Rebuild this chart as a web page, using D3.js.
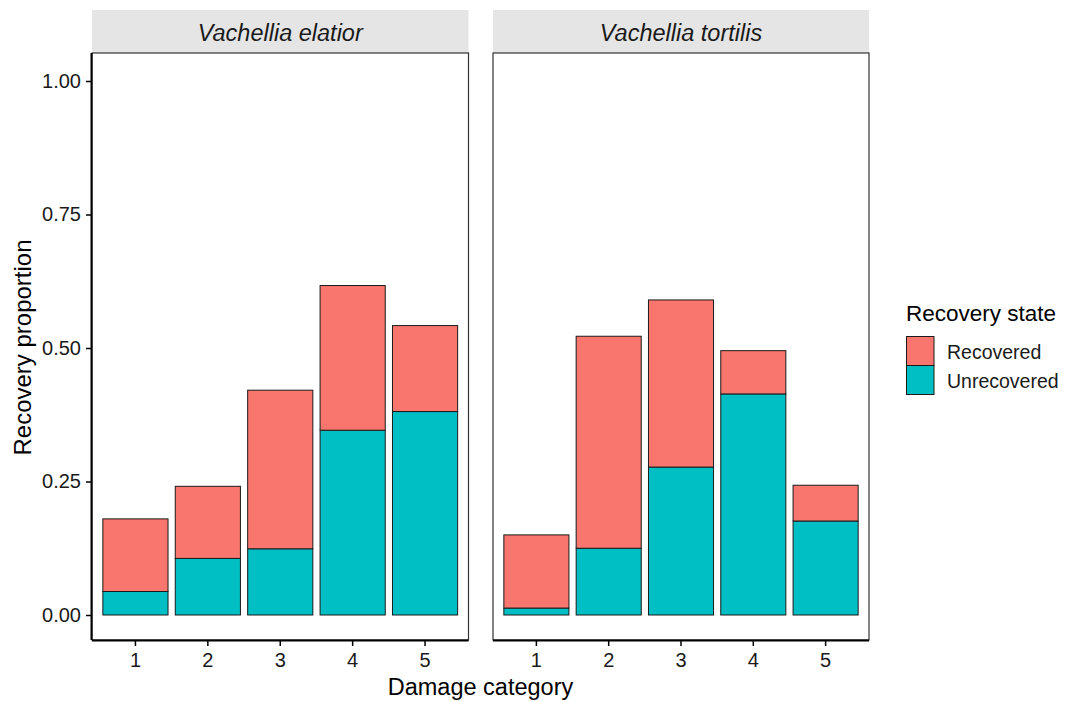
<!DOCTYPE html>
<html>
<head>
<meta charset="utf-8">
<script src="https://cdn.jsdelivr.net/npm/d3@7"></script>
<style>
  html, body { margin: 0; padding: 0; background: #fff; }
  svg { display: block; font-family: "Liberation Sans", Arial, sans-serif; }
</style>
</head>
<body>
<svg id="chart" width="1067" height="702"></svg>
<script>
// Damage categories and facet species
const categories = ["1", "2", "3", "4", "5"];
const species = ["Vachellia elatior", "Vachellia tortilis"];

// Proportions per damage category (stacked: Unrecovered at bottom, Recovered on top)
const elatiorUnrecovered = [0.044, 0.106, 0.124, 0.346, 0.381];
const elatiorRecovered   = [0.136, 0.135, 0.297, 0.271, 0.161];
const tortilisUnrecovered = [0.013, 0.125, 0.277, 0.414, 0.176];
const tortilisRecovered   = [0.137, 0.397, 0.313, 0.081, 0.067];

const states = ["Recovered", "Unrecovered"];
const stateColors = ["#F8766D", "#00BFC4"];
const yTicks = [0, 0.25, 0.5, 0.75, 1.0];

const panelData = [
  { name: species[0], Unrecovered: elatiorUnrecovered, Recovered: elatiorRecovered },
  { name: species[1], Unrecovered: tortilisUnrecovered, Recovered: tortilisRecovered }
];

const svg = d3.select("#chart");

// layout
const panelTop = 53, panelBottom = 640;
const stripTop = 10;
const panels = [
  { left: 92, right: 468.5 },
  { left: 493, right: 869 }
];

const y = d3.scaleLinear().domain([0, 1]).range([615, 81]);
const color = d3.scaleOrdinal().domain(states).range(stateColors);

panelData.forEach((pd, i) => {
  const p = panels[i];
  // discrete axis: 0.6 units of expansion each side, bars 0.9 units wide
  const x = d3.scaleBand().domain(categories)
    .range([p.left, p.right]).paddingInner(0.1).paddingOuter(0.15);

  const g = svg.append("g");

  // strip
  g.append("rect")
    .attr("x", p.left).attr("y", stripTop)
    .attr("width", p.right - p.left).attr("height", panelTop - stripTop)
    .attr("fill", "#E5E5E5");
  g.append("text")
    .attr("x", (p.left + p.right) / 2).attr("y", 41)
    .attr("text-anchor", "middle")
    .attr("font-size", 23.5).attr("font-style", "italic").attr("fill", "#1a1a1a")
    .text(pd.name);

  // stacked bars
  const rows = categories.map((c, k) => ({
    cat: c, Unrecovered: pd.Unrecovered[k], Recovered: pd.Recovered[k]
  }));
  const stack = d3.stack().keys(["Unrecovered", "Recovered"])(rows);
  stack.forEach(layer => {
    g.append("g").selectAll("rect").data(layer).join("rect")
      .attr("x", d => x(d.data.cat))
      .attr("width", x.bandwidth())
      .attr("y", d => y(d[1]))
      .attr("height", d => y(d[0]) - y(d[1]))
      .attr("fill", color(layer.key))
      .attr("stroke", "#1a1a1a").attr("stroke-width", 1);
  });

  // panel border
  g.append("rect")
    .attr("x", p.left).attr("y", panelTop)
    .attr("width", p.right - p.left).attr("height", panelBottom - panelTop)
    .attr("fill", "none").attr("stroke", "#333").attr("stroke-width", 1.2);

  // x axis
  const xAxis = g.append("g")
    .attr("transform", `translate(0,${panelBottom})`)
    .call(d3.axisBottom(x).tickSize(6).tickPadding(7));
  xAxis.select(".domain").attr("d", `M${p.left},0.5H${p.right}`)
    .attr("stroke", "#000").attr("stroke-width", 2);
  xAxis.selectAll(".tick line").attr("stroke", "#000").attr("stroke-width", 1.5);
  xAxis.selectAll(".tick text").attr("font-size", 20).attr("fill", "#1a1a1a")
    .attr("font-family", "Liberation Sans, Arial, sans-serif");

  // y axis on first panel only
  if (i === 0) {
    const yAxis = g.append("g")
      .attr("transform", `translate(${p.left},0)`)
      .call(d3.axisLeft(y).tickValues(yTicks).tickFormat(d3.format(".2f")).tickSize(6).tickPadding(5));
    yAxis.select(".domain").attr("d", `M-0.5,${panelTop}V${panelBottom}`)
      .attr("stroke", "#000").attr("stroke-width", 2);
    yAxis.selectAll(".tick line").attr("stroke", "#000").attr("stroke-width", 1.5);
    yAxis.selectAll(".tick text").attr("font-size", 20).attr("fill", "#1a1a1a")
      .attr("font-family", "Liberation Sans, Arial, sans-serif");
  }
});

// axis titles
svg.append("text")
  .attr("x", (panels[0].left + panels[1].right) / 2).attr("y", 695)
  .attr("text-anchor", "middle").attr("font-size", 23.5).attr("fill", "#000")
  .text("Damage category");
svg.append("text")
  .attr("transform", `translate(31,${(panelTop + panelBottom) / 2 + 1}) rotate(-90)`)
  .attr("text-anchor", "middle").attr("font-size", 24).attr("fill", "#000")
  .text("Recovery proportion");

// legend
const legend = svg.append("g").attr("transform", "translate(906,0)");
legend.append("text").attr("x", 0).attr("y", 321)
  .attr("font-size", 22.5).attr("fill", "#000").text("Recovery state");
states.forEach((s, k) => {
  const ky = 336.5 + k * 29;
  legend.append("rect")
    .attr("x", 0.5).attr("y", ky).attr("width", 27.5).attr("height", 29)
    .attr("fill", color(s)).attr("stroke", "#1a1a1a").attr("stroke-width", 1);
  legend.append("text")
    .attr("x", 41).attr("y", ky + 22.5)
    .attr("font-size", 19.5).attr("fill", "#1a1a1a").text(s);
});
</script>
</body>
</html>
